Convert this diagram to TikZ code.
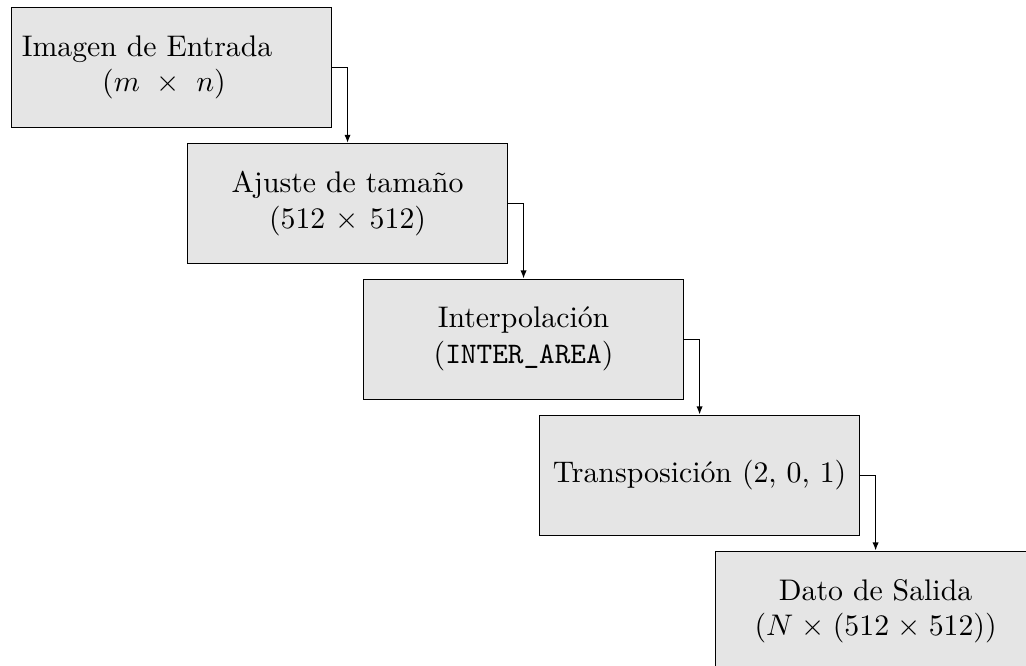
\documentclass[tikz,border=0pt]{standalone}
\usepackage{fontspec}
\usepackage{amsmath, amssymb}
\usepackage{xcolor}
\usepackage{tikz}
\usetikzlibrary{arrows.meta}

\begin{document}
\begin{tikzpicture}[
		paso/.style={draw, fill=gray!20, text width=100.5pt, inner sep=3.5pt, minimum height=40.3pt, align=center},
		flecha/.style={-{Latex[length=2.7pt, width=2.1pt]}}
	]
		\useasboundingbox (0,0) rectangle (12.101,-7.855);

		\node[paso, align=left] (entrada) at (2.023,-0.796) {Imagen de Entrada\\\hspace*{27pt}$(m~\times~n)$};
		\node[paso] (ajuste) at (4.099,-2.400) {Ajuste de tamaño\\$(512 \times 512)$};
		\node[paso] (interp) at (6.175,-4.000) {Interpolación\\(\texttt{INTER\_AREA})};
		\node[paso] (transp) at (8.251,-5.604) {Transposición (2, 0, 1)};
		\node[paso] (salida) at (10.327,-7.208) {Dato de Salida\\$(N \times (512 \times 512))$};

		\draw[flecha] (entrada.east) -| (ajuste.north);
		\draw[flecha] (ajuste.east) -| (interp.north);
		\draw[flecha] (interp.east) -| (transp.north);
		\draw[flecha] (transp.east) -| (salida.north);
	\end{tikzpicture}
\end{document}
